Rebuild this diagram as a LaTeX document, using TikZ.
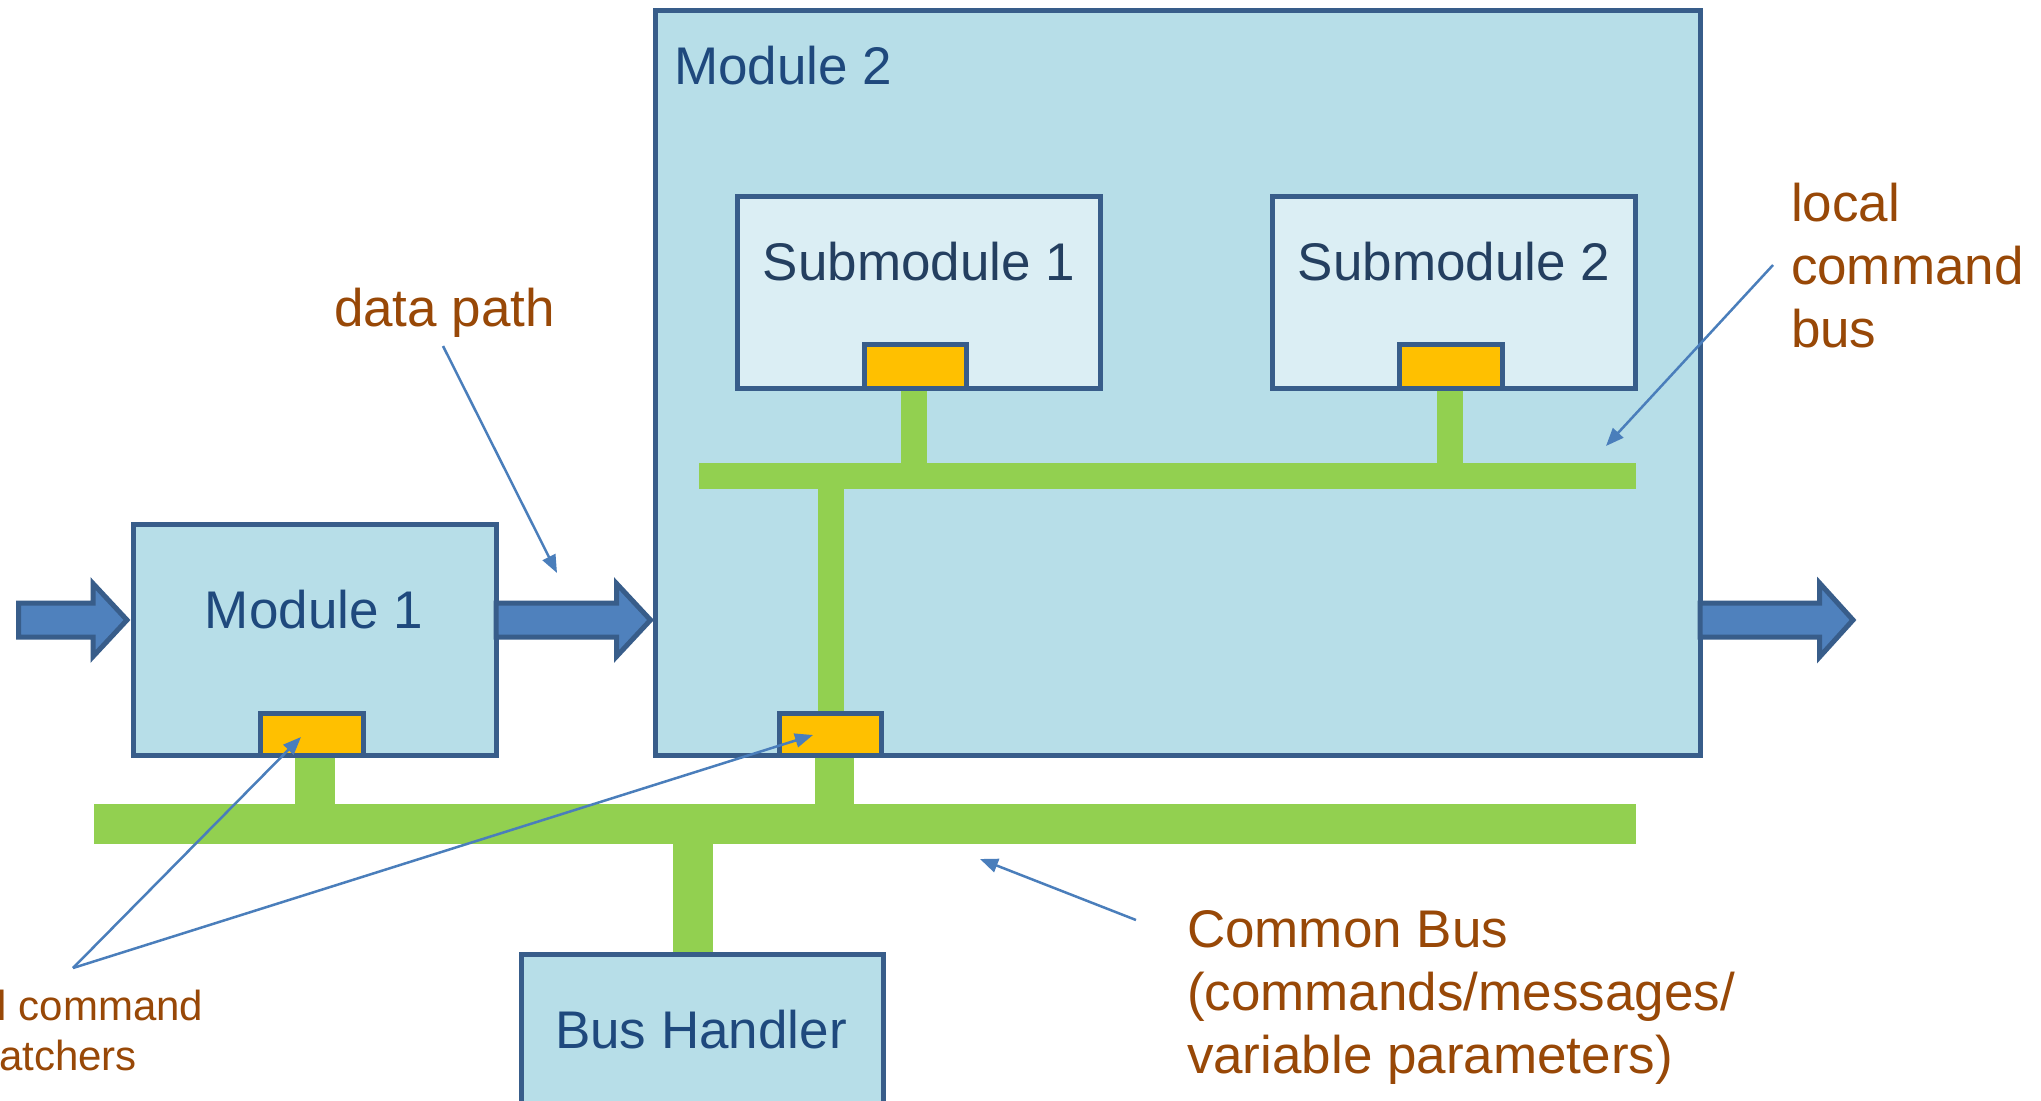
\documentclass[tikz,border=0pt]{standalone}
\usepackage{fontspec}
\setmainfont{Liberation Sans}
\usetikzlibrary{arrows.meta,calc}
\definecolor{boxfill}{HTML}{B7DEE8}
\definecolor{subfill}{HTML}{DBEEF4}
\definecolor{boxline}{HTML}{385D8A}
\definecolor{tabfill}{HTML}{FFC000}
\definecolor{busgreen}{HTML}{92D050}
\definecolor{arrowfill}{HTML}{4F81BD}
\definecolor{noteline}{HTML}{4A7EBB}
\definecolor{boxtext}{HTML}{1F497D}
\definecolor{subtext}{HTML}{243F60}
\definecolor{labeltext}{HTML}{984807}
\pgfdeclarelayer{bg}
\pgfdeclarelayer{boxes}
\pgfdeclarelayer{bus}
\pgfsetlayers{bg,boxes,bus,main}
\begin{document}
\begin{tikzpicture}[x=1pt,y=-1pt,
  box/.style={draw=boxline, line width=5pt, fill=boxfill, rectangle, inner sep=0pt, outer sep=0pt},
  subbox/.style={box, fill=subfill},
  tabbox/.style={box, fill=tabfill},
  bar/.style={fill=busgreen, draw=none, rectangle, inner sep=0pt, outer sep=0pt},
  wire/.style={draw=busgreen, line cap=butt},
  blk/.style={draw=boxline, fill=arrowfill, line width=5pt, line join=miter},
  note/.style={draw=noteline, line width=2.5pt, -{Triangle[length=18pt,width=14pt]}},
  big/.style={font=\fontsize{53}{63}\selectfont, inner sep=0pt, outer sep=0pt},
  boxlbl/.style={big, text=boxtext, anchor=base},
  sublbl/.style={big, text=subtext, anchor=base},
  lbl/.style={big, text=labeltext, anchor=base west},
  smalllbl/.style={font=\fontsize{42}{50}\selectfont, text=labeltext, inner sep=0pt, outer sep=0pt, anchor=base west}]

\useasboundingbox (0,0) rectangle (2041,1100);
\begin{pgfonlayer}{bg}
\fill[white] (0,0) rectangle (2041,1100);
\end{pgfonlayer}
\clip (0,0) rectangle (2041,1100);

% main modules (bottom layer)
\begin{pgfonlayer}{boxes}
\node[box, minimum width=1044.5pt, minimum height=744.5pt] (m2) at (1177.75,382.75) {};
\node[box, minimum width=362.5pt, minimum height=231pt] (m1) at (314.75,639.5) {};
\end{pgfonlayer}

% submodules, tabs, bus handler
\node[subbox, minimum width=363pt, minimum height=191.5pt] (s1) at (918.5,292.25) {};
\node[subbox, minimum width=363pt, minimum height=191.5pt] (s2) at (1454,292.25) {};
\node[tabbox, minimum width=103pt, minimum height=42pt] (t1) at (311.5,734) {};
\node[tabbox, minimum width=102pt, minimum height=42pt] (t2) at (830.5,734) {};
\node[tabbox, minimum width=102pt, minimum height=43.5pt] (t3) at (915.5,366.25) {};
\node[tabbox, minimum width=103pt, minimum height=43.5pt] (t4) at (1451,366.25) {};
\node[box, minimum width=362pt, minimum height=250pt, anchor=north] (bh) at (702.5,954.5) {};

% box texts
\node[big, text=boxtext, anchor=base west] (m2t) at (674,84) {Module 2};
\node[boxlbl] (m1t) at (314,628) {Module 1};
\node[sublbl] (s1t) at (919,280) {Submodule 1};
\node[sublbl] (s2t) at (1454,280) {Submodule 2};
\node[boxlbl] (bht) at (701,1048) {Bus Handler};

% buses
\begin{pgfonlayer}{bus}
\node[bar, minimum width=1542pt, minimum height=40pt] (cbus) at (865,824) {};
\node[bar, minimum width=937pt, minimum height=26pt] (lbus) at (1167.5,476) {};
\draw[wire, line width=40pt] ($(t1.south)+(3.5,0)$) -- ($(t1.south |- cbus.center)+(3.5,0)$);
\draw[wire, line width=39pt] ($(t2.south)+(4,0)$) -- ($(t2.south |- cbus.center)+(4,0)$);
\draw[wire, line width=40pt] ($(bh.north)+(-9.5,0)$) -- ($(bh.north |- cbus.center)+(-9.5,0)$);
\draw[wire, line width=26pt] (t2.north) -- (t2.north |- lbus.center);
\draw[wire, line width=26pt] ($(t3.south)+(-1.5,0)$) -- ($(t3.south |- lbus.center)+(-1.5,0)$);
\draw[wire, line width=26pt] ($(t4.south)+(-1,0)$) -- ($(t4.south |- lbus.center)+(-1,0)$);
\end{pgfonlayer}

% data path block arrows
\coordinate (lane) at (0,620);
\draw[blk] ($(m1.west|-lane)+(-6.5,0)$) -- ++(-34,-36.5) -- ++(0,19.5) -- ++(-74.5,0) -- ++(0,34) -- ++(74.5,0) -- ++(0,19.5) -- cycle;
\draw[blk] ($(m2.west|-lane)+(-5,0)$) -- ++(-34,-36.5) -- ++(0,19.5) -- ($(m1.east|-lane)+(0,-17)$) -- ++(0,34) -- ($(m2.west|-lane)+(-39,17)$) -- ++(0,19.5) -- cycle;
\draw[blk] ($(m2.east|-lane)+(0,-17)$) -- ++(119.5,0) -- ++(0,-20) -- ++(33.5,37) -- ++(-33.5,37) -- ++(0,-20) -- ++(-119.5,0) -- cycle;

% annotation labels
\node[lbl] (dp) at (334,326) {data path};
\node[lbl] (lc1) at (1791,221) {local};
\node[lbl] (lc2) at (1791,284) {command};
\node[lbl] (lc3) at (1791,347) {bus};
\node[lbl] (cb1) at (1187,947) {Common Bus};
\node[lbl] (cb2) at (1187,1010) {(commands/messages/};
\node[lbl] (cb3) at (1187,1073) {variable parameters)};
\node[smalllbl] (ds1) at (-2,1020) {l command};
\node[smalllbl] (ds2) at (-1,1070) {atchers};

% annotation arrows
\coordinate (dpA) at (443,346);
\coordinate (dpB) at (557,573);
\coordinate (lcA) at (1773,265);
\coordinate (lcB) at (1606,446);
\coordinate (cbA) at (1136,920);
\coordinate (cbB) at (980,859);
\coordinate (dsA) at (73,968);
\coordinate (dsB) at (301,737);
\coordinate (dsC) at (813,735);
\draw[note] (dpA) -- (dpB);
\draw[note] (lcA) -- (lcB);
\draw[note] (cbA) -- (cbB);
\draw[note] (dsA) -- (dsB);
\draw[note] (dsA) -- (dsC);
\end{tikzpicture}
\end{document}
